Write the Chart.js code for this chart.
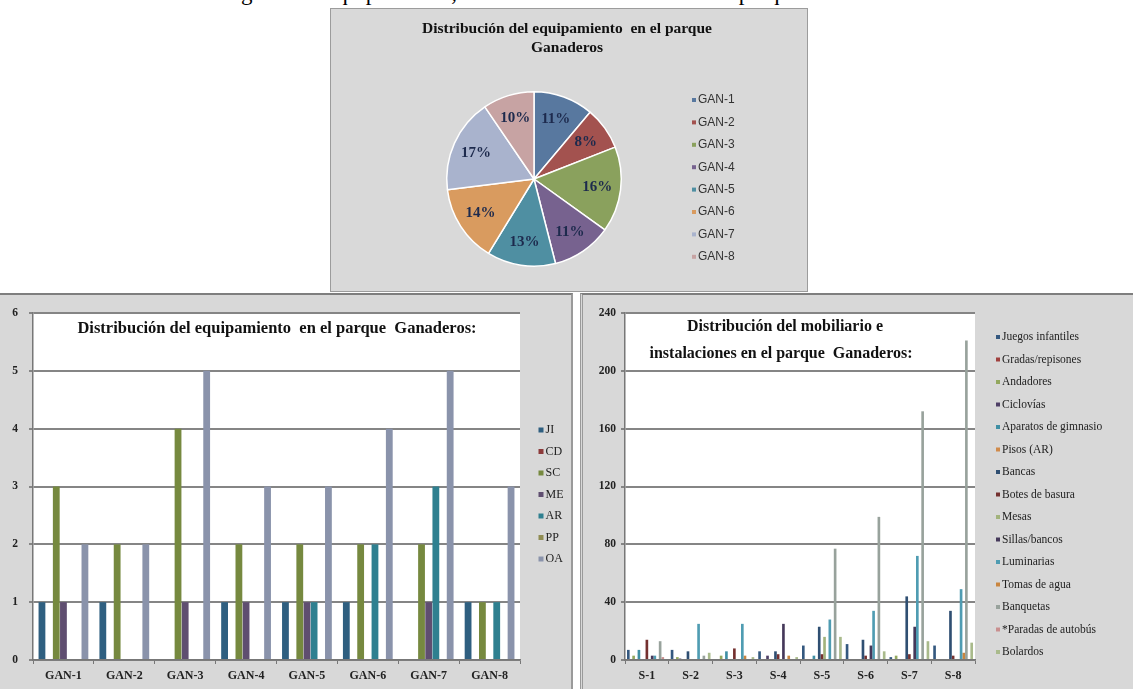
<!DOCTYPE html>
<html><head><meta charset="utf-8">
<script src="https://cdn.jsdelivr.net/npm/chart.js@4.4.0/dist/chart.umd.min.js"></script>
<style>
html,body{margin:0;padding:0;background:#fff;width:1133px;height:689px;overflow:hidden;position:relative;font-family:"Liberation Serif",serif}
#caption{position:absolute;left:0;width:1133px;top:-19px;text-align:center;font-size:23px;line-height:23px;white-space:nowrap;color:#000}
.panel{position:absolute;box-sizing:border-box}
#piePanel{left:330px;top:8px;width:478px;height:284px;background:#d9d9d9;border:1px solid #9c9c9c}
#leftPanel{left:0;top:293px;width:573px;height:396px;background:#d8d8d8;border-top:2px solid #7e7e7e;border-right:2px solid #9a9a9a}
#rightPanel{left:580px;top:293px;width:553px;height:396px;background:#d8d8d8;border-top:2px solid #7e7e7e;border-left:3px double #9a9a9a}
canvas{position:absolute}
#pieCanvas{left:330px;top:8px}
#leftCanvas{left:0;top:294px}
#rightCanvas{left:582px;top:294px}
</style>
</head><body>
<div id="caption">Figura 29. Equipamiento, mobiliario e instalaciones del parque Ganaderos.</div>
<div class="panel" id="piePanel"></div>
<div class="panel" id="leftPanel"></div>
<div class="panel" id="rightPanel"></div>
<canvas id="pieCanvas" width="478" height="284"></canvas>
<canvas id="leftCanvas" width="572" height="395"></canvas>
<canvas id="rightCanvas" width="551" height="395"></canvas>
<script>
// ---------- DATA ----------
const pieTitle = ['Distribución del equipamiento  en el parque', 'Ganaderos'];
const pieLabels = ['GAN-1','GAN-2','GAN-3','GAN-4','GAN-5','GAN-6','GAN-7','GAN-8'];
const pieValues = [7, 5, 10, 7, 8, 9, 11, 6];

const equipTitle = ['Distribución del equipamiento  en el parque  Ganaderos:'];
const equipCategories = ['GAN-1','GAN-2','GAN-3','GAN-4','GAN-5','GAN-6','GAN-7','GAN-8'];
const equipSeriesNames = ['JI','CD','SC','ME','AR','PP','OA'];
const jiValues = [1, 1, 0, 1, 1, 1, 0, 1];
const cdValues = [0, 0, 0, 0, 0, 0, 0, 0];
const scValues = [3, 2, 4, 2, 2, 2, 2, 1];
const meValues = [1, 0, 1, 1, 1, 0, 1, 0];
const arValues = [0, 0, 0, 0, 1, 2, 3, 1];
const ppValues = [0, 0, 0, 0, 0, 0, 0, 0];
const oaValues = [2, 2, 5, 3, 3, 4, 5, 3];
const equipTicks = [0, 1, 2, 3, 4, 5, 6];

const mobTitle = ['Distribución del mobiliario e', 'instalaciones en el parque  Ganaderos:'];
const mobCategories = ['S-1','S-2','S-3','S-4','S-5','S-6','S-7','S-8'];
const mobSeriesNames = ['Juegos infantiles','Gradas/repisones','Andadores','Ciclovías','Aparatos de gimnasio','Pisos (AR)','Bancas','Botes de basura','Mesas','Sillas/bancos','Luminarias','Tomas de agua','Banquetas','*Paradas de autobús','Bolardos'];
const juegosValues     = [7, 7, 0, 6, 10, 11, 2, 10];
const gradasValues     = [0, 0, 0, 0, 0, 0, 0, 0];
const andadoresValues  = [3, 2, 3, 0, 0, 0, 3, 0];
const ciclovíasValues  = [0, 1, 0, 3, 0, 0, 0, 0];
const aparatosValues   = [7, 0, 6, 0, 3, 0, 0, 0];
const pisosValues      = [0, 0, 0, 0, 0, 0, 0, 0];
const bancasValues     = [0, 6, 0, 6, 23, 14, 44, 34];
const botesValues      = [14, 0, 8, 4, 4, 3, 4, 3];
const mesasValues      = [0, 0, 0, 0, 16, 0, 0, 0];
const sillasValues     = [3, 0, 0, 25, 0, 10, 23, 0];
const luminariasValues = [3, 25, 25, 0, 28, 34, 72, 49];
const tomasValues      = [0, 0, 3, 3, 0, 0, 0, 5];
const banquetasValues  = [13, 3, 0, 0, 77, 99, 172, 221];
const paradasValues    = [2, 0, 0, 0, 0, 0, 0, 0];
const bolardosValues   = [0, 5, 2, 2, 16, 6, 13, 12];
const mobTicks = [0, 40, 80, 120, 160, 200, 240];

// ---------- STYLES ----------
const pieColors = ['#58789f','#a3524f','#8aa15d','#77628f','#4f8fa2','#d99b5f','#a9b3cd','#c7a3a3'];
const equipColors = ['#2f5f80','#8c3a3a','#76893f','#5f4e70','#2f8090','#8f8c52','#8a93ab'];
const mobColors = ['#34587f','#a0403e','#93a85e','#4e3f66','#3f8fa4','#d08a4a','#2f4f72','#74302f','#a2b37c','#45385a','#4f9cb2','#c9853f','#98a29c','#c98f8f','#a9ba8b'];

Chart.defaults.font.family = '"Liberation Serif", serif';
Chart.defaults.color = '#222';
Chart.defaults.animation = false;

const plotBg = {
  id: 'plotBg',
  beforeDraw(chart) {
    const a = chart.chartArea, ctx = chart.ctx;
    ctx.save(); ctx.fillStyle = '#ffffff';
    ctx.fillRect(a.left, a.top, a.right - a.left, a.bottom - a.top);
    ctx.restore();
  }
};
const overlayTitle = {
  id: 'overlayTitle',
  afterDraw(chart, args, opts) {
    const ctx = chart.ctx;
    ctx.save();
    ctx.font = opts.font; ctx.fillStyle = '#111'; ctx.textAlign = 'center'; ctx.textBaseline = 'middle';
    opts.lines.forEach((t, i) => ctx.fillText(t, opts.x[i], opts.y[i]));
    ctx.restore();
  }
};
const sideLegend = {
  id: 'sideLegend',
  afterDraw(chart, args, opts) {
    const ctx = chart.ctx;
    const labels = opts.labels, colors = opts.colors;
    ctx.save();
    ctx.font = opts.font; ctx.textBaseline = 'middle'; ctx.textAlign = 'left';
    labels.forEach((t, i) => {
      const y = opts.y + i * opts.step;
      ctx.fillStyle = colors[i];
      ctx.fillRect(opts.x - opts.box / 2, y - opts.box / 2, opts.box, opts.box);
      ctx.fillStyle = opts.color;
      ctx.fillText(t, opts.x + opts.box / 2 + 2, y);
    });
    ctx.restore();
  }
};
const pieLabelPlugin = {
  id: 'pieLabelPlugin',
  afterDatasetsDraw(chart) {
    const ctx = chart.ctx;
    const meta = chart.getDatasetMeta(0);
    const vals = chart.data.datasets[0].data;
    const total = vals.reduce((a, b) => a + b, 0);
    ctx.save();
    ctx.font = 'bold 15px "Liberation Serif", serif';
    ctx.fillStyle = '#1d2a4d'; ctx.textAlign = 'center'; ctx.textBaseline = 'middle';
    meta.data.forEach((arc, i) => {
      const p = arc.getProps(['x','y','startAngle','endAngle','outerRadius']);
      const m = (p.startAngle + p.endAngle) / 2;
      const r = p.outerRadius * 0.73;
      ctx.fillText(Math.round(vals[i] / total * 100) + '%', p.x + Math.cos(m) * r, p.y + Math.sin(m) * r);
    });
    ctx.restore();
  }
};

// ---------- PIE ----------
new Chart(document.getElementById('pieCanvas'), {
  type: 'pie',
  data: { labels: pieLabels, datasets: [{ data: pieValues, backgroundColor: pieColors, borderColor: '#ffffff', borderWidth: 1.5 }] },
  options: {
    responsive: false,
    layout: { padding: { left: 116, top: 83, right: 186, bottom: 25 } },
    plugins: {
      legend: { display: false }, tooltip: { enabled: false },
      overlayTitle: { lines: pieTitle, x: [237, 237], y: [21, 40], font: 'bold 15.5px "Liberation Serif", serif' },
      sideLegend: { labels: pieLabels, colors: pieColors, x: 364, y: 92, step: 22.4, box: 4, font: '12px "Liberation Sans", sans-serif', color: '#333' }
    }
  },
  plugins: [overlayTitle, sideLegend, pieLabelPlugin]
});

// ---------- BAR helpers ----------
function barScales(ticksArr, yWidth, yPad) {
  return {
    x: {
      grid: { display: true, drawOnChartArea: false, drawTicks: true, tickLength: 4, color: '#777', lineWidth: 1 },
      border: { display: true, color: '#777', width: 1.5 },
      ticks: { font: { size: 12, weight: 'bold' }, color: '#222', padding: 5, maxRotation: 0, autoSkip: false },
      afterFit(s) { s.height = 29; }
    },
    y: {
      min: ticksArr[0], max: ticksArr[ticksArr.length - 1],
      afterBuildTicks(s) { s.ticks = ticksArr.map(v => ({ value: v })); },
      grid: { color: '#858585', lineWidth: 2, drawTicks: true, tickLength: 4 },
      border: { display: true, color: '#777', width: 1.5 },
      ticks: { font: { size: 11.5, weight: 'bold' }, color: '#222', padding: yPad },
      afterFit(s) { s.width = yWidth; }
    }
  };
}

// ---------- LEFT BAR ----------
const equipData = [jiValues, cdValues, scValues, meValues, arValues, ppValues, oaValues];
new Chart(document.getElementById('leftCanvas'), {
  type: 'bar',
  data: {
    labels: equipCategories,
    datasets: equipSeriesNames.map((n, i) => ({ label: n, data: equipData[i], backgroundColor: equipColors[i], categoryPercentage: 7 / 8.5, barPercentage: 0.95 }))
  },
  options: {
    responsive: false,
    layout: { padding: { left: 0, top: 19, right: 52, bottom: 0 } },
    scales: barScales(equipTicks, 33, 11),
    plugins: {
      legend: { display: false }, tooltip: { enabled: false },
      overlayTitle: { lines: equipTitle, x: [277], y: [35], font: 'bold 16.5px "Liberation Serif", serif' },
      sideLegend: { labels: equipSeriesNames, colors: equipColors, x: 541, y: 136, step: 21.5, box: 5, font: '12px "Liberation Serif", serif', color: '#222' }
    }
  },
  plugins: [plotBg, overlayTitle, sideLegend]
});

// ---------- RIGHT BAR ----------
const mobData = [juegosValues, gradasValues, andadoresValues, ciclovíasValues, aparatosValues, pisosValues, bancasValues, botesValues, mesasValues, sillasValues, luminariasValues, tomasValues, banquetasValues, paradasValues, bolardosValues];
new Chart(document.getElementById('rightCanvas'), {
  type: 'bar',
  data: {
    labels: mobCategories,
    datasets: mobSeriesNames.map((n, i) => ({ label: n, data: mobData[i], backgroundColor: mobColors[i], categoryPercentage: 15 / 16.5, barPercentage: 1 }))
  },
  options: {
    responsive: false,
    layout: { padding: { left: 0, top: 19, right: 158, bottom: 0 } },
    scales: barScales(mobTicks, 43, 5),
    plugins: {
      legend: { display: false }, tooltip: { enabled: false },
      overlayTitle: { lines: mobTitle, x: [203, 199], y: [33, 60], font: 'bold 16px "Liberation Serif", serif' },
      sideLegend: { labels: mobSeriesNames, colors: mobColors, x: 416, y: 43, step: 22.5, box: 4, font: '11.5px "Liberation Serif", serif', color: '#222' }
    }
  },
  plugins: [plotBg, overlayTitle, sideLegend]
});
</script>
</body></html>
